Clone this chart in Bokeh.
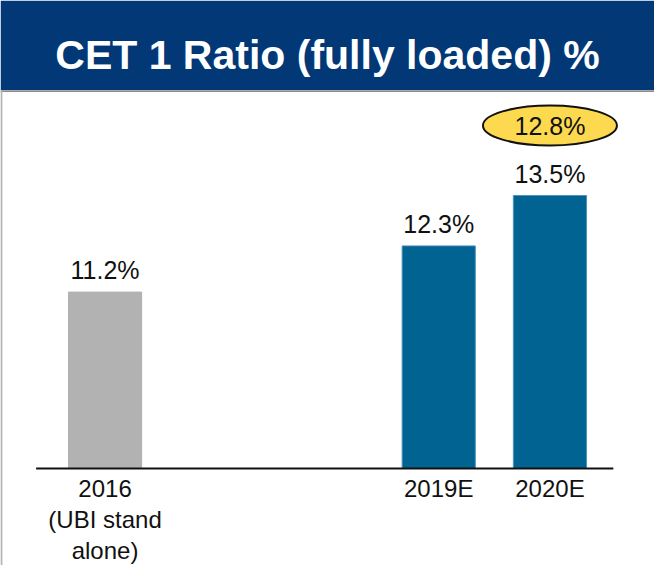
from bokeh.plotting import figure
from bokeh.models import FactorRange, Range1d, ColumnDataSource, Span
from bokeh.core.properties import value
from bokeh.embed import file_html
from bokeh.resources import INLINE

# ---- data ----
groups = ["actual", "plan", "plan"]
categories = ["2016", "2019E", "2020E"]
category_labels = ["2016\n(UBI stand\nalone)", "2019E", "2020E"]
cet1 = [11.2, 12.3, 13.5]
value_labels = ["11.2%", "12.3%", "13.5%"]
target_label = ["12.8%"]
title_text = "CET 1 Ratio (fully loaded) %"

# ---- layout constants ----
W, H = 654, 565
TOP = 90
floor_val = 7.0
y_top = 16.0
frame_h = H - TOP
px_per_unit = 42.0
y_bottom = y_top - frame_h / px_per_unit
pad_units = 0.44
range_pad = 2 * pad_units / 5.0

factors = [(g, c) for g, c in zip(groups, categories)]
x_range = FactorRange(factors=factors, group_padding=2.0, factor_padding=0.0,
                      range_padding=range_pad, range_padding_units="percent")

p = figure(width=W, height=H, x_range=x_range, y_range=Range1d(y_bottom, y_top),
           output_backend="svg", toolbar_location=None,
           x_axis_location=None, y_axis_location=None,
           min_border_left=0, min_border_right=0, min_border_bottom=0, min_border_top=TOP,
           title=title_text)
p.border_fill_color = "#023876"
p.background_fill_color = "white"
p.outline_line_color = None
p.xgrid.visible = False
p.ygrid.visible = False

p.title.align = "center"
p.title.text_color = "white"
p.title.text_font = "Liberation Sans"
p.title.text_font_style = "bold"
p.title.text_font_size = "41px"
p.title.offset = 0
p.title.standoff = 25

colors = ["#B2B2B2", "#006391", "#006391"]
edges = ["#B2B2B2", "#4F93BC", "#4F93BC"]
src = ColumnDataSource(dict(x=factors, top=cet1, label=value_labels,
                            clabel=category_labels, color=colors, edge=edges,
                            base=[floor_val] * len(cet1)))

p.vbar(x="x", top="top", bottom="base", width=0.658, fill_color="color",
       line_color="edge", line_width=1, source=src)

# value labels
p.text(x="x", y="top", text="label", source=src, text_font=value("Liberation Sans"),
       text_font_size="25px", text_align="center", text_baseline="bottom",
       y_offset=-8, text_color="#111111")

# category labels
p.text(x="x", y="base", text="clabel", source=src, text_font=value("Liberation Sans"),
       text_font_size="24px", text_align="center", text_baseline="top",
       y_offset=6, text_line_height=1.15, text_color="#111111")

# baseline
p.segment(x0=[(groups[0], categories[0], -0.62)], x1=[(groups[-1], categories[-1], 0.57)],
          y0=[floor_val], y1=[floor_val], line_color="#111111", line_width=2)

# highlighted target ellipse above last bar
ell_y = cet1[-1] + 70 / px_per_unit
ell_src = ColumnDataSource(dict(x=[factors[-1]], y=[ell_y], t=target_label))
p.ellipse(x="x", y="y", width=134, height=40, width_units="screen", height_units="screen",
          fill_color="#FCD94E", line_color="#111111", line_width=2, source=ell_src)
p.text(x="x", y="y", text="t", source=ell_src, text_font=value("Liberation Sans"),
       text_font_size="25px", text_align="center", text_baseline="middle",
       text_color="#111111")

# panel border lines
p.add_layout(Span(location=y_top, dimension="width", line_color="#8C8C8C", line_width=3))
p.add_layout(Span(location=-pad_units + 0.008, dimension="height", line_color="#B4B4B4", line_width=2))

open("out.html", "w").write(file_html(p, INLINE))
